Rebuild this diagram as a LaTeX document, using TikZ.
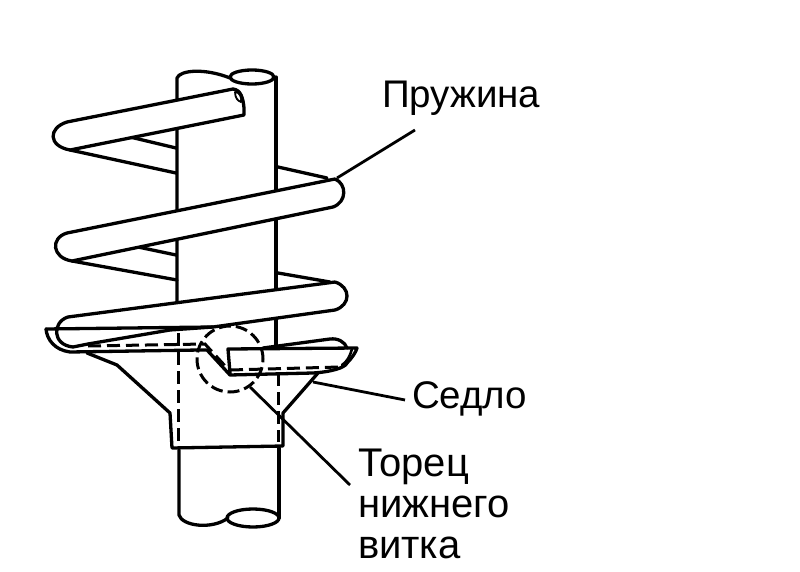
\documentclass[tikz,border=0pt]{standalone}
\usepackage{fontspec}
\setmainfont{Liberation Sans}
\tikzset{
  ink/.style={draw=black,line width=3.3pt,line cap=round,line join=round},
  thin ink/.style={draw=black,line width=2.6pt,line cap=round,line join=round},
  coil/.style={ink,fill=white},
  hidden/.style={draw=black,line width=3pt,dash pattern=on 13pt off 6pt},
  leader/.style={draw=black,line width=2.8pt},
  lbl/.style={font=\fontsize{38.5}{38.5}\selectfont,anchor=base west,inner sep=0pt,outer sep=0pt,text=black},
  lblwide/.style={lbl,font=\fontsize{40}{40}\selectfont}
}
\begin{document}
\begin{tikzpicture}[x=1pt,y=-1pt]
\useasboundingbox (0,0) rectangle (800,572);
% rod upper
\draw[ink] (177,320) -- (177,78) .. controls (180,70) and (205,68) .. (230,78);
\draw[ink] (252,77) ellipse [x radius=22,y radius=7];
\draw[ink] (276,77) -- (276,347);
% wires behind the rod
\draw[ink] (70,150) -- (176,173);
\draw[ink] (130,137) -- (176,148);
\draw[ink] (278,167) -- (327,178);
\draw[ink] (72,261) -- (177,280);
\draw[ink] (138,247) -- (176,255);
\draw[ink] (278,273) -- (330,282);
% top coil
\draw[coil] (233,89) -- (67,122) .. controls (48,128) and (48,146) .. (70,150) -- (244,115) -- (244,108) .. controls (243,98) and (241,90) .. (233,89);
\draw[thin ink,line width=1.8pt] (235,92) .. controls (240,92) and (242,98) .. (241,102) .. controls (238,101) and (235,98) .. (235,92);
% second coil
\draw[coil] (335,179) -- (67,233) .. controls (50,238) and (52,258) .. (72,261) -- (333,207) .. controls (347,202) and (347,184) .. (335,179);
% third coil
\draw[coil] (335,282) -- (68,317) .. controls (52,322) and (52,345) .. (73,347) -- (88,344) -- (170,330) -- (213,327) -- (335,310) .. controls (351,305) and (351,287) .. (335,282);
% seat
\draw[ink] (46,329) -- (213,327);
\draw[ink] (46,329) .. controls (47,340) and (55,350) .. (70,352) -- (200,350) -- (207,350) -- (230,375) -- (313,373) .. controls (330,372) and (345,368) .. (347,363) .. controls (352,358) and (356,352) .. (357,348) -- (228,349) -- (230,373);
\draw[ink] (263,348) -- (330,339) .. controls (338,338) and (345,342) .. (347,348);
\draw[thin ink] (352,349) .. controls (350,356) and (347,362) .. (342,365);
% hidden edge of the lowest turn
\draw[hidden] (88,346) -- (205,344) -- (227,368);
\draw[hidden] (230,370) -- (340,367);
% seat cup and tube
\draw[ink] (87,353) -- (117,365) -- (170,413) -- (172,448) -- (283,446) -- (283,413) -- (318,373);
\draw[hidden] (178,333) -- (178,443);
\draw[hidden] (278,373) -- (278,442);
% rod lower
\draw[ink] (179,450) -- (179,515) .. controls (182,526) and (212,530) .. (228,518);
\draw[ink] (279,448) -- (279,518);
\draw[ink] (253,518) ellipse [x radius=26,y radius=9];
% circled detail
\node[circle,draw=black,line width=3pt,dash pattern=on 12pt off 5pt,minimum size=66pt,inner sep=0pt] (detail) at (230,359) {};
% labels
\node[lbl] (spring) at (382,108) {Пружина};
\node[lbl] (seat) at (412,408) {Седло};
\node[lblwide] (end1) at (358,476) {Торец};
\node[lblwide] (end2) at (358,517) {нижнего};
\node[lblwide] (end3) at (358,558) {витка};
% leaders
\coordinate (springpt) at (337,178);
\coordinate (springend) at (415,130);
\coordinate (seatpt) at (313,382);
\coordinate (seatend) at (405,400);
\coordinate (detailpt) at (250,387);
\coordinate (detailend) at (350,485);
\draw[leader] (springpt) -- (springend);
\draw[leader] (seatpt) -- (seatend);
\draw[leader] (detailpt) -- (detailend);
\end{tikzpicture}
\end{document}
